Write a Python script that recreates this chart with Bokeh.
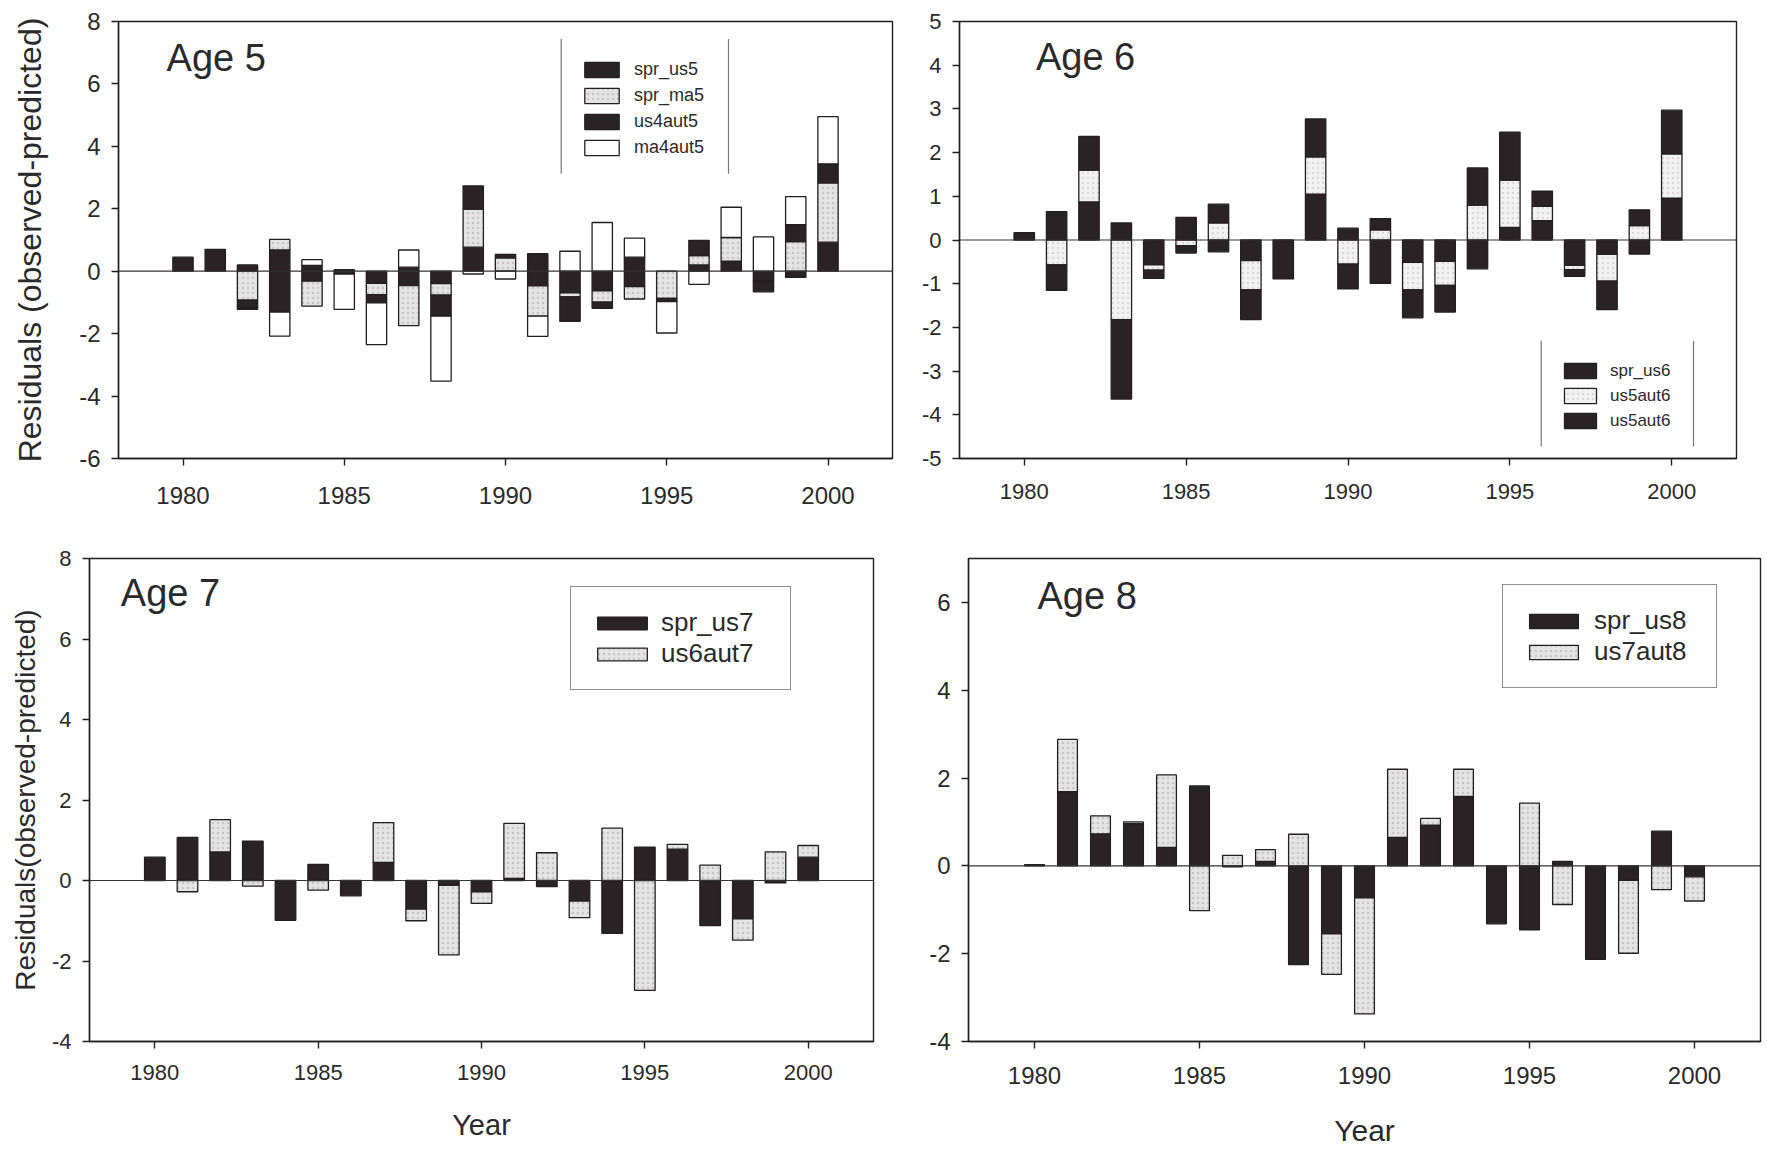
import numpy as np
from bokeh.plotting import figure
from bokeh.layouts import column, row
from bokeh.models import (Span, Label, Legend, LegendItem, FixedTicker, ColumnDataSource,
                          BoxAnnotation, PrintfTickFormatter)
from bokeh.embed import file_html
from bokeh.resources import INLINE

# ---------------- data ----------------
years = list(range(1980, 2001))
x_ticks = [1980, 1985, 1990, 1995, 2000]

# Age 5
age5_names = ["spr_us5", "spr_ma5", "us4aut5", "ma4aut5"]
spr_us5 = [0.45, 0.70, 0.20, 0.68, -0.32, 0.05, -0.39, -0.46, -0.40, 0.77, 0.00,
           -0.47, -0.69, -0.63, -0.49, 0.00, 0.20, 0.32, -0.30, -0.20, 0.93]
spr_ma5 = [0.00, 0.00, -0.93, 0.34, -0.80, 0.00, -0.36, -1.28, -0.37, 1.22, 0.43,
           -0.97, -0.13, -0.36, -0.40, -0.87, 0.30, 0.76, -0.04, 0.95, 1.90]
us4aut5 = [0.00, 0.00, -0.26, -1.31, 0.19, -0.09, -0.26, 0.13, -0.67, 0.74, 0.11,
           0.56, -0.79, -0.20, 0.45, -0.10, 0.49, 0.00, -0.32, 0.54, 0.61]
ma4aut5 = [0.00, 0.00, -0.03, -0.77, 0.18, -1.13, -1.34, 0.55, -2.08, -0.09, -0.25,
           -0.65, 0.64, 1.56, 0.61, -1.01, -0.42, 0.97, 1.10, 0.90, 1.51]
age5_yticks = [-6, -4, -2, 0, 2, 4, 6, 8]

# Age 6
age6_names = ["spr_us6", "us5aut6", "us5aut6"]
spr_us6 = [0.17, 0.65, 0.87, 0.39, -0.57, 0.52, -0.27, -0.47, -0.89, 1.05, 0.27,
           -0.99, -0.51, -0.49, -0.66, 0.29, 0.44, -0.58, -0.33, -0.32, 0.96]
us5aut6_a = [0.00, -0.57, 0.73, -1.82, -0.12, -0.13, 0.39, -0.67, 0.00, 0.85, -0.55,
             0.23, -0.63, -0.55, 0.80, 1.08, 0.33, -0.10, -0.61, 0.33, 1.01]
us5aut6_b = [0.00, -0.58, 0.77, -1.82, -0.19, -0.17, 0.43, -0.68, 0.00, 0.87, -0.57,
             0.26, -0.64, -0.61, 0.85, 1.10, 0.35, -0.15, -0.65, 0.36, 1.00]
age6_yticks = [-5, -4, -3, -2, -1, 0, 1, 2, 3, 4, 5]

# Age 7
age7_names = ["spr_us7", "us6aut7"]
spr_us7 = [0.58, 1.07, 0.71, 0.98, -0.99, 0.40, -0.38, 0.45, -0.71, -0.12, -0.28,
           0.05, -0.15, -0.51, -1.31, 0.83, 0.78, -1.12, -0.95, -0.06, 0.58]
us6aut7 = [0.00, -0.28, 0.80, -0.14, 0.00, -0.24, 0.00, 0.99, -0.29, -1.73, -0.29,
           1.37, 0.69, -0.41, 1.30, -2.73, 0.12, 0.38, -0.53, 0.71, 0.29]
age7_yticks = [-4, -2, 0, 2, 4, 6, 8]

# Age 8
age8_names = ["spr_us8", "us7aut8"]
spr_us8 = [0.03, 1.69, 0.73, 0.96, 0.42, 1.82, -0.02, 0.10, -2.25, -1.55, -0.73,
           0.65, 0.93, 1.58, -1.32, -1.46, 0.10, -2.13, -0.33, 0.79, -0.25]
us7aut8 = [0.00, 1.19, 0.41, 0.04, 1.65, -1.02, 0.24, 0.27, 0.72, -0.92, -2.64,
           1.55, 0.15, 0.62, 0.00, 1.43, -0.88, 0.00, -1.66, -0.54, -0.55]
age8_yticks = [-4, -2, 0, 2, 4, 6]

# ---------------- styles ----------------
FONT = "Liberation Sans"
INK = "#231e20"
TXT = "#2a2a2a"
BLACK = dict(fill_color="#2a2326", line_color=INK)
GRAY = dict(fill_color="#e4e4e4", line_color=INK, hatch_pattern=".",
            hatch_color="#a8a8a8", hatch_alpha=0.5, hatch_scale=5)
LGRAY = dict(fill_color="#f2f2f2", line_color=INK, hatch_pattern=".",
             hatch_color="#b5b5b5", hatch_alpha=0.4, hatch_scale=5)
WHITE = dict(fill_color="#ffffff", line_color=INK)
X_RANGE = (1978, 2002)


def stacked(series_list):
    yrs = np.array(years, dtype=float)
    pos = np.zeros(len(yrs))
    neg = np.zeros(len(yrs))
    out = []
    for vals in series_list:
        v = np.asarray(vals, dtype=float)
        bottom = np.where(v >= 0, pos, neg)
        top = bottom + v
        pos = np.where(v >= 0, top, pos)
        neg = np.where(v < 0, top, neg)
        m = v != 0
        out.append(dict(x=yrs[m], bottom=bottom[m], top=top[m]))
    return out


def panel(series_list, names, styles, y_range, yticks, width, height, borders,
          tick_size, x_standoff, title, title_xy, legend_cfg, ylabel=None,
          ylabel_size="30px", ylabel_standoff=30, xlabel=None, xlabel_size="28px",
          xlabel_standoff=22, bar_w=0.63):
    bl, br, bt, bb = borders
    fw = width - bl - br
    fh = height - bt - bb
    p = figure(width=width, height=height, x_range=X_RANGE, y_range=y_range,
               output_backend="svg", toolbar_location=None,
               min_border_left=bl, min_border_right=br,
               min_border_top=bt, min_border_bottom=bb)
    p.background_fill_color = "white"
    p.border_fill_color = "white"
    p.grid.visible = False
    p.outline_line_color = INK
    p.outline_line_width = 1.4
    for ax in (p.xaxis[0], p.yaxis[0]):
        ax.axis_line_color = INK
        ax.axis_line_width = 1.4
        ax.major_tick_line_color = INK
        ax.major_tick_line_width = 1.4
        ax.major_tick_out = 7
        ax.major_tick_in = 0
        ax.minor_tick_out = 0
        ax.minor_tick_in = 0
        ax.major_label_text_font = FONT
        ax.major_label_text_font_size = tick_size
        ax.major_label_text_color = TXT
        ax.axis_label_text_font = FONT
        ax.axis_label_text_font_style = "normal"
        ax.axis_label_text_color = TXT
        ax.formatter = PrintfTickFormatter(format="%d")
    p.xaxis.ticker = FixedTicker(ticks=x_ticks)
    p.yaxis.ticker = FixedTicker(ticks=yticks)
    p.xaxis.major_label_standoff = x_standoff
    p.yaxis.major_label_standoff = 11
    if ylabel:
        p.yaxis.axis_label = ylabel
        p.yaxis.axis_label_text_font_size = ylabel_size
        p.yaxis.axis_label_standoff = ylabel_standoff
    if xlabel:
        p.xaxis.axis_label = xlabel
        p.xaxis.axis_label_text_font_size = xlabel_size
        p.xaxis.axis_label_standoff = xlabel_standoff

    renderers = []
    for data, st in zip(stacked(series_list), styles):
        src = ColumnDataSource(data)
        r = p.vbar(x="x", bottom="bottom", top="top", width=bar_w, source=src,
                   line_width=1.3, **st)
        renderers.append(r)

    p.add_layout(Span(location=0, dimension="width", line_color="#333333",
                      line_width=1.2))

    tx, ty = title_xy
    p.add_layout(Label(x=tx, y=ty, text=title, text_font=FONT,
                       text_font_size="38px", text_color=TXT,
                       text_baseline="alphabetic"))

    vl = legend_cfg.get("vlines")
    lg = Legend(items=[LegendItem(label=n, renderers=[r]) for n, r in zip(names, renderers)],
                location=legend_cfg["loc"], orientation="vertical",
                margin=0, padding=legend_cfg["pad"], spacing=0,
                glyph_width=legend_cfg["gw"], glyph_height=legend_cfg["gh"],
                label_height=legend_cfg["lh"], label_width=legend_cfg["lw"],
                label_standoff=legend_cfg["ls"],
                label_text_font=FONT, label_text_font_size=legend_cfg["fs"],
                label_text_color=TXT,
                border_line_color=None if vl else INK, border_line_width=1.3,
                background_fill_color="white", background_fill_alpha=1.0)
    p.add_layout(lg)

    if vl:
        # two thin vertical rules framing the legend (frame-relative pixels -> data)
        xl, xr, yt, yb = vl
        def to_x(px):
            return X_RANGE[0] + px * (X_RANGE[1] - X_RANGE[0]) / fw
        def to_y(py):
            return y_range[1] - py * (y_range[1] - y_range[0]) / fh
        for xp in (xl, xr):
            p.add_layout(BoxAnnotation(left=to_x(xp), right=to_x(xp), top=to_y(yt),
                                       bottom=to_y(yb), fill_alpha=0,
                                       line_color="#555555", line_width=1.2,
                                       line_alpha=0.8))
    return p


p1 = panel([spr_us5, spr_ma5, us4aut5, ma4aut5], age5_names, [BLACK, GRAY, BLACK, WHITE],
           (-6, 8), age5_yticks, 900, 520, (118, 8, 19, 62), "24px", 21,
           "Age 5", (1979.49, 6.83),
           dict(loc=(462, 298), pad=0, gw=43, gh=19, lh=26, lw=75, ls=11, fs="18px",
                vlines=(442.7, 610, 17.7, 153)),
           ylabel="Residuals (observed-predicted)", ylabel_size="32px", ylabel_standoff=28)

p2 = panel([spr_us6, us5aut6_a, us5aut6_b], age6_names, [BLACK, LGRAY, BLACK],
           (-5, 5), age6_yticks, 867, 520, (59, 31, 21, 60), "22px", 18,
           "Age 6", (1980.36, 4.19),
           dict(loc=(601, 25), pad=0, gw=40, gh=19, lh=25, lw=67, ls=10, fs="17px",
                vlines=(581.7, 734, 320.7, 427)))

p3 = panel([spr_us7, us6aut7], age7_names, [BLACK, GRAY],
           (-4, 8), age7_yticks, 900, 629, (89, 27, 36, 101), "22px", 16,
           "Age 7", (1978.96, 7.15),
           dict(loc=(481, 351), pad=20, gw=62, gh=16, lh=30, lw=109, ls=8, fs="26px"),
           ylabel="Residuals(observed-predicted)", ylabel_size="28px", ylabel_standoff=8,
           xlabel="Year", xlabel_size="29px", xlabel_standoff=26)

p4 = panel([spr_us8, us7aut8], age8_names, [BLACK, GRAY],
           (-4, 7), age8_yticks, 867, 629, (68, 7, 38, 99), "24px", 18,
           "Age 8", (1980.09, 6.15),
           dict(loc=(534, 353), pad=20, gw=61, gh=18, lh=31, lw=102, ls=10, fs="26px"),
           xlabel="Year", xlabel_size="30px", xlabel_standoff=27, bar_w=0.6)

layout = column(row(p1, p2), row(p3, p4))
open("out.html", "w").write(file_html(layout, INLINE))
